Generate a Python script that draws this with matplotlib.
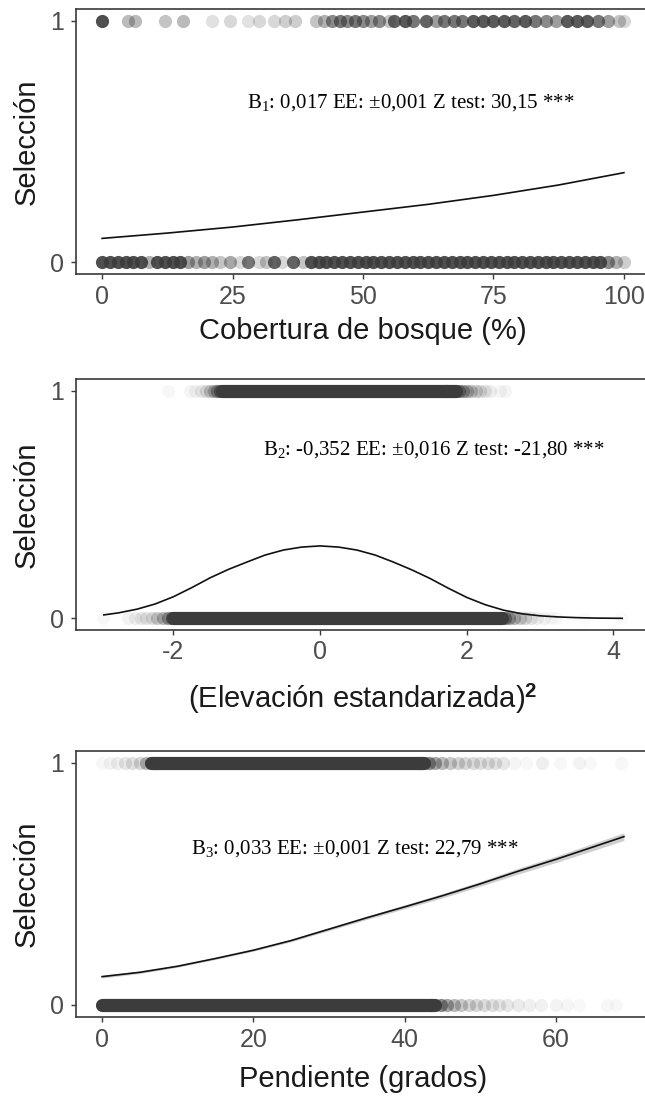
import matplotlib
matplotlib.use("Agg")
import matplotlib.pyplot as plt

# ---------------- data ----------------
# Panel 1: Cobertura de bosque (%)
p1_top_x = [0, 5, 6.3, 12, 15.5, 21, 24.5, 28, 30, 33, 35, 37, 41, 42.5, 44, 45.5,
            47, 48.5, 50, 51.5, 53, 55, 56, 58, 59.5, 62, 64, 65.5, 67.5, 69, 71, 73,
            75, 77, 79, 81, 83, 85, 87, 89, 91, 93, 95, 97, 99, 100]
p1_top_a = [0.9, 0.35, 0.35, 0.3, 0.35, 0.15, 0.2, 0.15, 0.2, 0.2, 0.25, 0.25, 0.3, 0.4, 0.6, 0.7,
            0.6, 0.7, 0.6, 0.5, 0.6, 0.3, 0.8, 0.85, 0.7, 0.8, 0.5, 0.7, 0.7, 0.7, 0.85, 0.85,
            0.85, 0.85, 0.8, 0.85, 0.7, 0.6, 0.5, 0.85, 0.85, 0.85, 0.7, 0.5, 0.3, 0.2]
p1_bot_x = [0, 1.5, 3, 4.5, 6, 7.5, 9, 10.5, 12, 13.5, 15, 16.5, 18, 19.5, 21, 22.5,
            24.5, 26.5, 28, 30, 31.5, 33, 34.5, 36.5, 38.5,
            40, 41.5, 43, 44.5, 46, 47.5, 49, 50.5, 52, 53.5, 55, 56.5, 58, 59.5, 61,
            62.5, 64, 65.5, 67, 68.5, 70, 71.5, 73, 74.5, 76, 77.5, 79, 80.5, 82, 83.5,
            85, 86.5, 88, 89.5, 91, 92.5, 94, 95.5, 97, 98.5, 100]
p1_bot_a = [0.9, 0.9, 0.9, 0.9, 0.9, 0.9, 0.4, 0.9, 0.9, 0.9, 0.9, 0.5, 0.4, 0.5, 0.4, 0.3,
            0.45, 0.2, 0.7, 0.2, 0.3, 0.8, 0.2, 0.8, 0.3,
            0.9, 0.9, 0.9, 0.9, 0.9, 0.9, 0.9, 0.9, 0.9, 0.9, 0.9, 0.9, 0.9, 0.9, 0.9,
            0.9, 0.9, 0.9, 0.9, 0.9, 0.9, 0.9, 0.9, 0.9, 0.9, 0.9, 0.9, 0.9, 0.9, 0.9,
            0.9, 0.9, 0.9, 0.9, 0.9, 0.9, 0.9, 0.9, 0.6, 0.4, 0.25]
p1_fit_x = [0, 12.5, 25, 37.5, 50, 62.5, 75, 87.5, 100]
p1_fit_y = [0.099, 0.121, 0.146, 0.176, 0.208, 0.240, 0.277, 0.320, 0.371]

# Panel 2: (Elevación estandarizada)^2
p2_top_band = (-1.34, 1.85)
p2_top_x = [-2.08, -1.78, -1.70, -1.62, -1.56, -1.50, -1.45, -1.40, -1.36, 1.72,
            1.90, 1.95, 2.00, 2.06, 2.12, 2.18, 2.25, 2.32, 2.45, 2.52]
p2_top_a = [0.04, 0.05, 0.06, 0.10, 0.15, 0.25, 0.35, 0.50, 0.70, 0.9,
            0.60, 0.45, 0.35, 0.25, 0.20, 0.15, 0.12, 0.08, 0.05, 0.05]
p2_bot_band = (-2.0, 2.48)
p2_bot_x = [-2.96, -2.62, -2.52, -2.45, -2.38, -2.30, -2.22, -2.15, -2.08, -2.02,
            2.52, 2.58, 2.65, 2.72, 2.80, 2.88, 2.96, 3.05, 3.15, 3.22, 3.6, 4.1]
p2_bot_a = [0.03, 0.06, 0.08, 0.10, 0.12, 0.15, 0.25, 0.35, 0.50, 0.70,
            0.60, 0.45, 0.35, 0.25, 0.18, 0.12, 0.08, 0.06, 0.04, 0.03, 0.02, 0.02]
p2_fit_x = [-2.95, -2.75, -2.5, -2.25, -2.0, -1.75, -1.5, -1.25, -1.0, -0.75, -0.5, -0.25,
            0.0, 0.25, 0.5, 0.75, 1.0, 1.25, 1.5, 1.75, 2.0, 2.25, 2.5, 2.75, 3.0, 3.25,
            3.5, 3.75, 4.12]
p2_fit_y = [0.015, 0.024, 0.040, 0.063, 0.095, 0.135, 0.178, 0.215, 0.247, 0.278, 0.300, 0.313,
            0.318, 0.313, 0.300, 0.278, 0.247, 0.213, 0.175, 0.132, 0.092, 0.060, 0.036, 0.020,
            0.011, 0.006, 0.003, 0.001, 0.0]

# Panel 3: Pendiente (grados)
p3_top_band = (6.5, 42.5)
p3_top_x = [0, 1, 2, 3, 4, 5, 5.8, 7, 42, 43.2, 44, 45, 46, 47, 48, 49, 50, 51, 52, 53,
            54.5, 56, 58.2, 60.5, 63, 64.5, 68.6]
p3_top_a = [0.04, 0.06, 0.08, 0.12, 0.15, 0.20, 0.35, 0.8, 0.8, 0.60, 0.45, 0.35, 0.28,
            0.22, 0.20, 0.18, 0.17, 0.17, 0.15, 0.12, 0.05, 0.04, 0.08, 0.04, 0.06, 0.03, 0.04]
p3_bot_band = (0, 44)
p3_bot_x = [43.5, 44.8, 45.6, 46.5, 47.5, 48.5, 49.5, 50.5, 51.5, 52.5, 53.5, 55, 56.5,
            58, 60, 61.5, 63, 66.8, 68]
p3_bot_a = [0.8, 0.60, 0.45, 0.35, 0.28, 0.22, 0.20, 0.18, 0.15, 0.13, 0.12, 0.10, 0.08,
            0.07, 0.06, 0.05, 0.03, 0.04, 0.03]
p3_fit_x = [0, 5, 10, 15, 20, 25, 30, 35, 40, 45, 50, 55, 60, 65, 69]
p3_fit_y = [0.117, 0.135, 0.160, 0.192, 0.226, 0.266, 0.313, 0.360, 0.405, 0.451,
            0.500, 0.552, 0.601, 0.653, 0.695]
p3_fit_lo = [0.111, 0.130, 0.156, 0.188, 0.222, 0.261, 0.307, 0.353, 0.397, 0.442,
             0.490, 0.540, 0.588, 0.638, 0.679]
p3_fit_hi = [0.123, 0.140, 0.164, 0.196, 0.230, 0.271, 0.319, 0.367, 0.413, 0.460,
             0.510, 0.564, 0.614, 0.668, 0.711]

x_labels = ["Cobertura de bosque (%)", r"(Elevación estandarizada)$^{\mathbf{2}}$",
            "Pendiente (grados)"]
y_label = "Selección"
x_ticks = [[0, 25, 50, 75, 100], [-2, 0, 2, 4], [0, 20, 40, 60]]
x_limits = [(-5, 105), (-3.33, 4.5), (-3.45, 72.45)]
y_ticks = [0, 1]
notes = ["B$_1$: 0,017 EE: ±0,001 Z test: 30,15 ***",
         "B$_2$: -0,352 EE: ±0,016 Z test: -21,80 ***",
         "B$_3$: 0,033 EE: ±0,001 Z test: 22,79 ***"]
note_pos = [(27.8, 0.663), (-0.78, 0.74), (11.8, 0.645)]

# ---------------- style ----------------
plt.rcParams["font.family"] = ["Liberation Sans", "DejaVu Sans"]
plt.rcParams["axes.unicode_minus"] = False
plt.rcParams["mathtext.fontset"] = "custom"
plt.rcParams["mathtext.rm"] = "Liberation Serif"
plt.rcParams["mathtext.it"] = "Liberation Serif:italic"
plt.rcParams["mathtext.bf"] = "Liberation Sans:bold"

DARK = "#3c3c3c"
MD = 9.5           # marker diameter (pt)
W, H = 645, 1098
fig = plt.figure(figsize=(W / 100, H / 100), dpi=100)

# axes frames in pixels (left, top, right, bottom)
frames = [(76, 8.6, 650, 274.4), (76, 379.3, 650, 629.7), (76, 750.6, 650, 1017.1)]
xlab_centers = [331, 699, 1079]


def make_ax(i):
    l, t, r, b = frames[i]
    ax = fig.add_axes([l / W, 1 - b / H, (r - l) / W, (b - t) / H])
    ax.set_xlim(*x_limits[i])
    ax.set_ylim(-0.05, 1.05)
    ax.set_xticks(x_ticks[i])
    ax.set_yticks(y_ticks)
    for s in ax.spines.values():
        s.set_color("#3a3a3a")
        s.set_linewidth(1.2)
    ax.tick_params(axis="both", direction="out", length=3.6, width=1.0, color="#3a3a3a",
                   labelcolor="#4d4d4d", labelsize=18)
    ax.tick_params(axis="x", pad=4)
    ax.tick_params(axis="y", pad=5)
    ax.set_ylabel(y_label, fontsize=21, color="#1a1a1a", va="center")
    ax.yaxis.set_label_coords((27 - l) / (r - l), 0.5)
    ax.set_xlabel(x_labels[i], fontsize=21, color="#1a1a1a", va="center")
    ax.xaxis.set_label_coords(0.5, (b - xlab_centers[i]) / (b - t))
    return ax


def points(ax, xs, y, alphas):
    for x, a in zip(xs, alphas):
        ax.scatter([x], [y], s=MD ** 2, color=DARK, alpha=a, linewidths=0, zorder=2)


def band(ax, rng, y):
    ax.plot(list(rng), [y, y], color=DARK, lw=MD, solid_capstyle="round", zorder=2)


note_kw = dict(fontsize=15, family="Liberation Serif", color="black", ha="left", va="center", zorder=5)

# Panel 1
ax1 = make_ax(0)
points(ax1, p1_top_x, 1, p1_top_a)
points(ax1, p1_bot_x, 0, p1_bot_a)
ax1.plot(p1_fit_x, p1_fit_y, color="#111111", lw=1.2, zorder=4)
ax1.text(*note_pos[0], notes[0], **note_kw)

# Panel 2
ax2 = make_ax(1)
band(ax2, p2_top_band, 1)
band(ax2, p2_bot_band, 0)
points(ax2, p2_top_x, 1, p2_top_a)
points(ax2, p2_bot_x, 0, p2_bot_a)
ax2.plot(p2_fit_x, p2_fit_y, color="#111111", lw=1.2, zorder=4)
ax2.text(*note_pos[1], notes[1], **note_kw)

# Panel 3
ax3 = make_ax(2)
band(ax3, p3_top_band, 1)
band(ax3, p3_bot_band, 0)
points(ax3, p3_top_x, 1, p3_top_a)
points(ax3, p3_bot_x, 0, p3_bot_a)
ax3.fill_between(p3_fit_x, p3_fit_lo, p3_fit_hi, color="#b0b0b0", alpha=0.6, lw=0, zorder=3)
ax3.plot(p3_fit_x, p3_fit_y, color="#111111", lw=1.2, zorder=4)
ax3.text(*note_pos[2], notes[2], **note_kw)

fig.savefig("out.png", dpi=100)
